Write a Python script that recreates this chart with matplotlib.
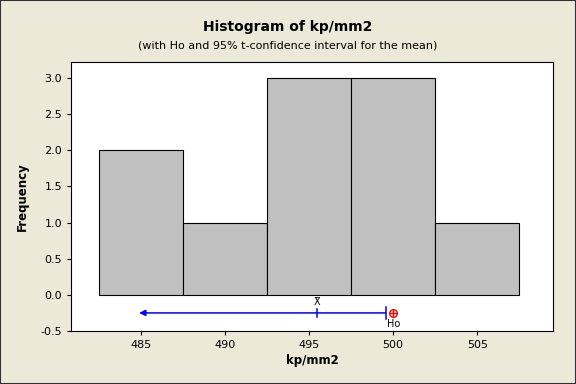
import matplotlib
matplotlib.use('Agg')
import matplotlib.pyplot as plt
from matplotlib.patches import Rectangle

# histogram data
bin_centers = [485, 490, 495, 500, 505]
counts = [2, 1, 3, 3, 1]
bin_width = 5

# confidence interval info
xbar = 495.45
ci_upper = 499.55
ci_left_shown = 485.0
h0 = 500.0
ci_y = -0.25

xticks = [485, 490, 495, 500, 505]
yticks = [-0.5, 0.0, 0.5, 1.0, 1.5, 2.0, 2.5, 3.0]

bg = '#ece9d8'
plt.rcParams['font.family'] = ['DejaVu Sans']

fig = plt.figure(figsize=(5.76, 3.84), dpi=100, facecolor=bg)
fig.patches.append(Rectangle((0, 0), 1, 1, transform=fig.transFigure,
                             fill=False, edgecolor='#333333', linewidth=1.5))
ax = fig.add_axes([71 / 576, 1 - 331 / 384, (553 - 71) / 576, (331 - 62) / 384])
ax.set_facecolor('white')

ax.bar(bin_centers, counts, width=bin_width, color='#c0c0c0',
       edgecolor='black', linewidth=0.8)

# CI line with arrow to the left
ax.annotate('', xy=(ci_left_shown - 0.1, ci_y), xytext=(ci_upper, ci_y),
            arrowprops=dict(arrowstyle='-|>', color='#0000ee', lw=1.1,
                            mutation_scale=9, shrinkA=0, shrinkB=0))
ax.plot([xbar, xbar], [ci_y - 0.06, ci_y + 0.06], color='#0000ee', lw=1.1)
ax.plot([ci_upper, ci_upper], [ci_y - 0.08, ci_y + 0.08], color='#0000ee', lw=1.1)
ax.text(xbar, ci_y + 0.08, 'X\u0304', ha='center', va='bottom', fontsize=7)
ax.plot(h0, ci_y, marker='o', markersize=5.5, markerfacecolor='none',
        markeredgecolor='red', markeredgewidth=1)
ax.plot(h0, ci_y, marker='+', markersize=5.5, color='red', markeredgewidth=1)
ax.text(h0, ci_y - 0.08, 'Ho', ha='center', va='top', fontsize=7)

ax.set_xlim(480.85, 509.5)
ax.set_ylim(-0.5, 3.22)
ax.set_xticks(xticks)
ax.set_yticks(yticks)
ax.set_yticklabels([f'{v:.1f}' for v in yticks])
ax.tick_params(labelsize=8, length=3, width=0.8)
for s in ax.spines.values():
    s.set_linewidth(0.8)

ax.set_xlabel('kp/mm2', fontsize=8.5, fontweight='bold', labelpad=3)
ax.set_ylabel('Frequency', fontsize=8.5, fontweight='bold', labelpad=8)

fig.text(0.5, 1 - 27 / 384, 'Histogram of kp/mm2', ha='center', va='center',
         fontsize=10, fontweight='bold')
fig.text(0.5, 1 - 45 / 384, '(with Ho and 95% t-confidence interval for the mean)',
         ha='center', va='center', fontsize=8)

fig.savefig('out.png', dpi=100, facecolor=bg)
